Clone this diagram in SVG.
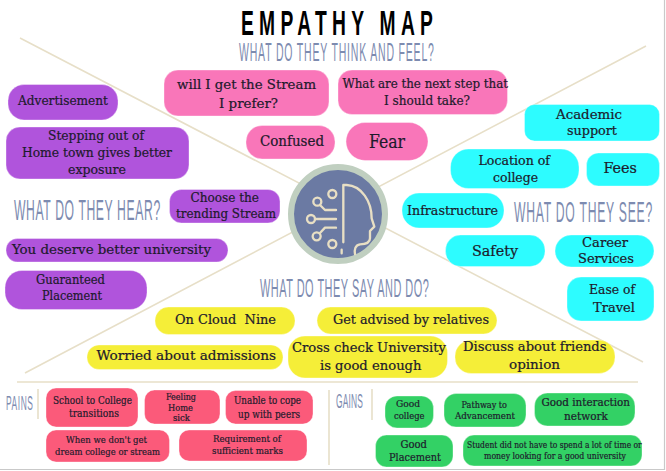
<svg xmlns="http://www.w3.org/2000/svg" width="666" height="471" viewBox="0 0 666 471">
<style>
.p{fill:#b054dc}.k{fill:#f976b9}.c{fill:#2dfcff}.y{fill:#f5ee38}.r{fill:#fb5a7a}.g{fill:#33d165}
rect{stroke-width:1;stroke-opacity:.35;stroke:#fff}
text{font-family:"DejaVu Serif Condensed","DejaVu Serif","Liberation Serif",serif;fill:#1d1a2c;stroke:#1d1a2c;stroke-width:.2;font-size:13px}
.h{font-family:"Liberation Sans",Arial,sans-serif;fill:#7d8bb0;stroke:none;font-size:25px}
.t{font-family:"Liberation Sans",Arial,sans-serif;fill:#000;stroke:none;font-size:35px;font-weight:bold}
.xs{font-size:8.500px}.s{font-size:9.400px}.n{font-size:10px}.m{font-size:11.500px}.l{font-size:15px}
.ln{stroke:#e7dfc8;stroke-width:1.6;fill:none}
.ic{stroke:#e8dfc4;stroke-width:7;fill:none;stroke-linecap:round;stroke-linejoin:round}
</style>
<rect x="0" y="0" width="666" height="471" fill="#fff" stroke="none"/>
<path d="M664.500 0V469.500H0" fill="none" stroke="#c9c9c9" stroke-width="1.200"/>
<g id="connectors">
<path class="ln" d="M20 38L643 362M646 46L25 373M17 382H638M38 389V419M329 390V465M372 389V420"/>
</g>
<g id="titles">
<text class="t" transform="translate(241 35) scale(.55 1)" textLength="349" lengthAdjust="spacing">EMPATHY MAP</text>
<text class="h" transform="translate(239 61) scale(.42 1)" textLength="464" lengthAdjust="spacing">WHAT DO THEY THINK AND FEEL?</text>
<text class="h" transform="translate(14 220) scale(.42 1)" textLength="348" lengthAdjust="spacing" style="font-size:29px">WHAT DO THEY HEAR?</text>
<text class="h" transform="translate(514 222) scale(.42 1)" textLength="329" lengthAdjust="spacing" style="font-size:29px">WHAT DO THEY SEE?</text>
<text class="h" transform="translate(260 297) scale(.42 1)" textLength="402" lengthAdjust="spacing" style="font-size:26px">WHAT DO THEY SAY AND DO?</text>
<text class="h" transform="translate(6 410) scale(.42 1)" textLength="64" lengthAdjust="spacing" style="font-size:20px">PAINS</text>
<text class="h" transform="translate(336 408) scale(.42 1)" textLength="64" lengthAdjust="spacing" style="font-size:20px">GAINS</text>
</g>
<g id="center">
<circle cx="338" cy="214" r="47" fill="#6b7aa3" stroke="#c0cfc0" stroke-width="6"/>
<g transform="translate(275 155) scale(.3333)">
<path class="ic" d="M205 262V90H215C260 92 290 140 290 190L298 215L285 228V250C285 265 270 268 255 268C240 270 238 285 240 297M200 284V295M135 150L150 165H183M120 192H183M135 234L150 218H183"/>
<circle class="ic" cx="172" cy="117" r="12"/><circle class="ic" cx="127" cy="140" r="12"/><circle class="ic" cx="108" cy="192" r="12"/><circle class="ic" cx="125" cy="244" r="12"/><circle class="ic" cx="172" cy="267" r="12"/>
</g>
</g>
<g id="n-advertisement"><rect class="p" x="8" y="84.500" width="110" height="35.500" rx="16"/><text x="18" y="105" textLength="90" lengthAdjust="spacingAndGlyphs">Advertisement</text></g>
<g id="n-stepping"><rect class="p" x="6" y="127" width="183" height="52" rx="14"/><text x="48" y="140" textLength="96" lengthAdjust="spacingAndGlyphs">Stepping out of</text><text x="22" y="157" textLength="150" lengthAdjust="spacingAndGlyphs">Home town gives better</text><text x="68" y="174" textLength="58" lengthAdjust="spacingAndGlyphs">exposure</text></g>
<g id="n-choose"><rect class="p" x="169.500" y="189.500" width="110.500" height="33.500" rx="12"/><text x="190.500" y="202" textLength="68.500" lengthAdjust="spacingAndGlyphs">Choose the</text><text x="176" y="218" textLength="100" lengthAdjust="spacingAndGlyphs">trending Stream</text></g>
<g id="n-deserve"><rect class="p" x="6" y="238.500" width="222" height="23.500" rx="11.500"/><text x="12" y="254" textLength="199" lengthAdjust="spacingAndGlyphs" style="font-size:13.500px">You deserve better university</text></g>
<g id="n-guaranteed"><rect class="p" x="5" y="270.500" width="142" height="39" rx="17"/><text x="36" y="284" textLength="69" lengthAdjust="spacingAndGlyphs">Guaranteed</text><text x="42" y="300" textLength="60" lengthAdjust="spacingAndGlyphs">Placement</text></g>
<g id="n-stream"><rect class="k" x="164" y="70" width="165" height="46" rx="14"/><text x="177" y="89" textLength="139" lengthAdjust="spacingAndGlyphs">will I get the Stream</text><text x="219" y="108" textLength="59" lengthAdjust="spacingAndGlyphs">I prefer?</text></g>
<g id="n-next"><rect class="k" x="338" y="70" width="169.500" height="44.500" rx="14"/><text x="342.500" y="88" textLength="165.500" lengthAdjust="spacingAndGlyphs">What are the next step that</text><text x="384" y="105" textLength="86" lengthAdjust="spacingAndGlyphs">I should take?</text></g>
<g id="n-confused"><rect class="k" x="246" y="125.500" width="89" height="33.500" rx="16"/><text x="260" y="146" textLength="64" lengthAdjust="spacingAndGlyphs" style="font-size:14px">Confused</text></g>
<g id="n-fear"><rect class="k" x="346" y="122.500" width="82" height="38" rx="19"/><text x="369" y="148" textLength="36" lengthAdjust="spacingAndGlyphs" style="font-size:18px">Fear</text></g>
<g id="n-academic"><rect class="c" x="524.500" y="104.500" width="135" height="36.500" rx="10"/><text x="556" y="119" textLength="66" lengthAdjust="spacingAndGlyphs">Academic</text><text x="567" y="135" textLength="50" lengthAdjust="spacingAndGlyphs">support</text></g>
<g id="n-location"><rect class="c" x="450.500" y="149" width="128.500" height="39.500" rx="18"/><text x="478.500" y="165" textLength="71.500" lengthAdjust="spacingAndGlyphs">Location of</text><text x="493" y="182" textLength="45" lengthAdjust="spacingAndGlyphs">college</text></g>
<g id="n-fees"><rect class="c" x="586.500" y="153" width="73" height="33" rx="12"/><text class="l" x="603.500" y="173" textLength="33.500" lengthAdjust="spacingAndGlyphs">Fees</text></g>
<g id="n-infrastructure"><rect class="c" x="402" y="193" width="102" height="35" rx="17"/><text x="407" y="215" textLength="91" lengthAdjust="spacingAndGlyphs">Infrastructure</text></g>
<g id="n-safety"><rect class="c" x="445.500" y="235" width="99.500" height="31.500" rx="15"/><text class="l" x="472" y="256" textLength="46" lengthAdjust="spacingAndGlyphs">Safety</text></g>
<g id="n-career"><rect class="c" x="555" y="235" width="99" height="32" rx="16"/><text x="582" y="247" textLength="46" lengthAdjust="spacingAndGlyphs">Career</text><text x="578" y="263" textLength="56" lengthAdjust="spacingAndGlyphs">Services</text></g>
<g id="n-ease"><rect class="c" x="567" y="277" width="87" height="44" rx="14"/><text x="589" y="294" textLength="46" lengthAdjust="spacingAndGlyphs">Ease of</text><text x="593" y="312" textLength="42" lengthAdjust="spacingAndGlyphs">Travel</text></g>
<g id="n-cloud"><rect class="y" x="155" y="307" width="140" height="27.500" rx="13.500"/><text x="175" y="324" textLength="101" lengthAdjust="spacingAndGlyphs" xml:space="preserve">On Cloud  Nine</text></g>
<g id="n-advised"><rect class="y" x="317" y="307" width="180" height="27" rx="13.500"/><text x="333" y="324" textLength="156" lengthAdjust="spacingAndGlyphs">Get advised by relatives</text></g>
<g id="n-worried"><rect class="y" x="87" y="345" width="196" height="24.500" rx="12"/><text x="96.500" y="360" textLength="179.500" lengthAdjust="spacingAndGlyphs">Worried about admissions</text></g>
<g id="n-cross"><rect class="y" x="288" y="336" width="159.500" height="42" rx="17"/><text x="292" y="352" textLength="154" lengthAdjust="spacingAndGlyphs">Cross check University</text><text x="320" y="370" textLength="101.500" lengthAdjust="spacingAndGlyphs">is good enough</text></g>
<g id="n-discuss"><rect class="y" x="455" y="340" width="160" height="33.500" rx="16"/><text x="463" y="351" textLength="143.500" lengthAdjust="spacingAndGlyphs">Discuss about friends</text><text x="509" y="369" textLength="51" lengthAdjust="spacingAndGlyphs">opinion</text></g>
<g id="n-school"><rect class="r" x="46" y="388" width="92" height="39" rx="10"/><text class="m" x="53" y="404" textLength="79" lengthAdjust="spacingAndGlyphs">School to College</text><text class="m" x="69" y="417" textLength="50" lengthAdjust="spacingAndGlyphs">transitions</text></g>
<g id="n-feeling"><rect class="r" x="144.500" y="390" width="75.500" height="34" rx="10"/><text class="xs" x="166" y="400" textLength="30" lengthAdjust="spacingAndGlyphs">Feeling</text><text class="xs" x="168" y="411" textLength="25" lengthAdjust="spacingAndGlyphs">Home</text><text class="xs" x="173" y="421" textLength="17" lengthAdjust="spacingAndGlyphs">sick</text></g>
<g id="n-unable"><rect class="r" x="225.500" y="390.500" width="87.500" height="33.500" rx="10"/><text class="m" x="234" y="404" textLength="67" lengthAdjust="spacingAndGlyphs">Unable to cope</text><text class="m" x="238" y="418" textLength="62" lengthAdjust="spacingAndGlyphs">up with peers</text></g>
<g id="n-when"><rect class="r" x="46" y="430" width="123.500" height="32" rx="10"/><text class="n" x="66" y="443" textLength="81" lengthAdjust="spacingAndGlyphs">When we don't get</text><text class="n" x="55" y="455" textLength="105" lengthAdjust="spacingAndGlyphs">dream college or stream</text></g>
<g id="n-requirement"><rect class="r" x="179" y="430" width="128" height="31" rx="10"/><text class="n" x="213" y="442" textLength="68" lengthAdjust="spacingAndGlyphs">Requirement of</text><text class="n" x="212" y="454" textLength="71" lengthAdjust="spacingAndGlyphs">sufficient marks</text></g>
<g id="n-goodcollege"><rect class="g" x="385" y="396" width="48.500" height="32" rx="12"/><text class="n" x="396" y="407" textLength="24" lengthAdjust="spacingAndGlyphs">Good</text><text class="n" x="394" y="419" textLength="30.500" lengthAdjust="spacingAndGlyphs">college</text></g>
<g id="n-pathway"><rect class="g" x="444" y="393.500" width="82" height="33.500" rx="12"/><text class="s" x="461.500" y="408" textLength="45.500" lengthAdjust="spacingAndGlyphs">Pathway to</text><text class="s" x="455" y="419" textLength="60" lengthAdjust="spacingAndGlyphs">Advancement</text></g>
<g id="n-interaction"><rect class="g" x="534.500" y="393" width="100.500" height="33" rx="13"/><text class="m" x="541.500" y="406" textLength="88.500" lengthAdjust="spacingAndGlyphs">Good interaction</text><text class="m" x="564" y="420" textLength="44" lengthAdjust="spacingAndGlyphs">network</text></g>
<g id="n-placement"><rect class="g" x="375.500" y="435" width="77.500" height="32" rx="11"/><text class="m" x="400.500" y="448" textLength="26.500" lengthAdjust="spacingAndGlyphs">Good</text><text class="m" x="389" y="461" textLength="52" lengthAdjust="spacingAndGlyphs">Placement</text></g>
<g id="n-student"><rect class="g" x="463" y="435" width="179" height="31" rx="11"/><text class="s" transform="translate(467 448) scale(.78 1)" textLength="224" lengthAdjust="spacingAndGlyphs">Student did not have to spend a lot of time or</text><text class="s" transform="translate(484 459) scale(.78 1)" textLength="182" lengthAdjust="spacingAndGlyphs">money looking for a good university</text></g>
</svg>
